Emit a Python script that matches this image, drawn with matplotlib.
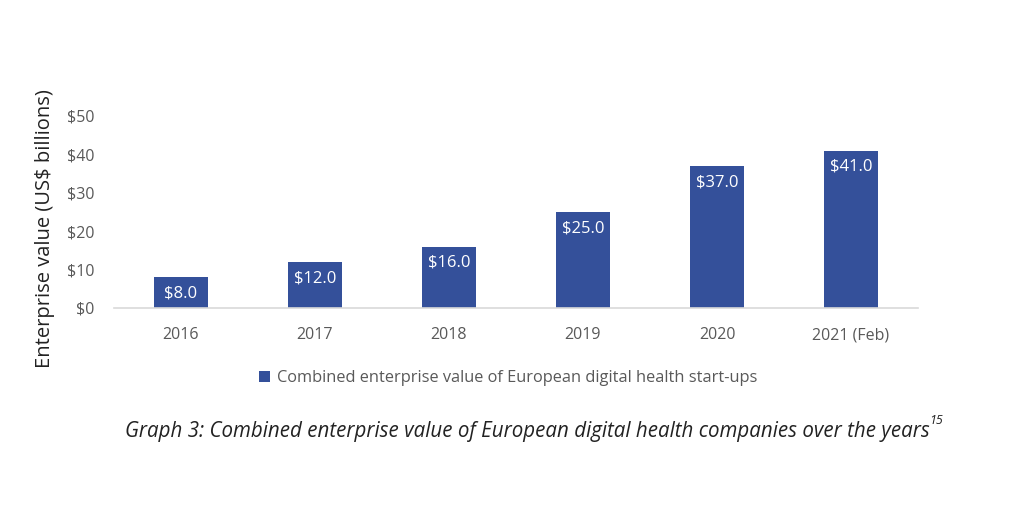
import matplotlib.pyplot as plt

years = ["2016", "2017", "2018", "2019", "2020", "2021 (Feb)"]
values = [8.0, 12.0, 16.0, 25.0, 37.0, 41.0]
yticks = [0, 10, 20, 30, 40, 50]

bar_color = "#34509a"
grey = "#595959"
plt.rcParams['font.family'] = ['Open Sans', 'DejaVu Sans']

fig = plt.figure(figsize=(10.24, 5.15), dpi=100)
ax = fig.add_axes([0.1113, 0.402, 0.7852, 0.3728])

x = list(range(len(years)))
bars = ax.bar(x, values, width=0.40, color=bar_color,
              label="Combined enterprise value of European digital health start-ups")
for xi, v in zip(x, values):
    ax.annotate(f"${v:.1f}", (xi, v), xytext=(0, -6), textcoords="offset points",
                ha="center", va="top", color="white", fontsize=12)

ax.set_xlim(-0.5, len(years) - 0.5)
ax.set_ylim(0, 50)
ax.set_yticks(yticks)
ax.set_yticklabels([f"${t}" for t in yticks])
ax.set_xticks(x)
ax.set_xticklabels(years)
ax.tick_params(length=0, labelsize=11.5, labelcolor=grey)
ax.tick_params(axis="x", pad=14)
ax.tick_params(axis="y", pad=14)
for s in ["top", "right", "left"]:
    ax.spines[s].set_visible(False)
ax.spines["bottom"].set_color("#d9d9d9")
ax.spines["bottom"].set_linewidth(1.2)

fig.text(0.044, 0.557, "Enterprise value (US$ billions)", rotation=90,
         ha="center", va="center", fontsize=14.5, color="#222222")

ax.legend(loc="center", bbox_to_anchor=(0.49, -0.365), frameon=False,
          fontsize=11.8, labelcolor=grey, handlelength=0.7, handleheight=0.7,
          handletextpad=0.4)

fig.text(0.515, 0.163,
         "Graph 3: Combined enterprise value of European digital health companies over the years",
         ha="center", va="center", fontsize=14.8, style="italic", color="#222222")
fig.text(0.907, 0.183, "15", ha="left", va="center", fontsize=9,
         style="italic", color="#222222")

fig.savefig("out.png", dpi=100)
